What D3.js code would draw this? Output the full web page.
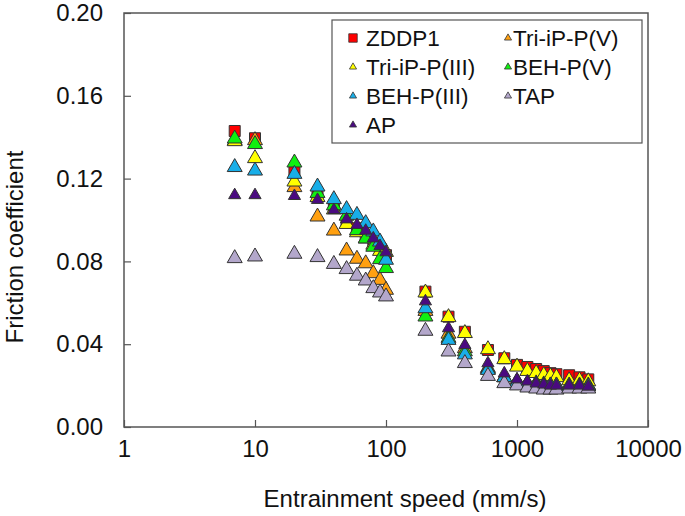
<!DOCTYPE html>
<html>
<head>
<meta charset="utf-8">
<script src="https://cdn.jsdelivr.net/npm/d3@7"></script>
<style>
  body { margin: 0; background: #fff; }
  text { font-family: "Liberation Sans", Arial, sans-serif; fill: #111; }
</style>
</head>
<body>
<svg id="chart" width="685" height="516"></svg>
<script>
// data
var speeds = [7, 10, 20, 30, 40, 50, 60, 70, 80, 90, 100, 200, 300, 400, 600, 800, 1000, 1200, 1400, 1600, 1800, 2000, 2500, 3000, 3500];
var zddp1 = [0.143, 0.1395, 0.1233, 0.112, 0.106, 0.099, 0.096, 0.092, 0.089, 0.086, 0.083, 0.0654, 0.0533, 0.046, 0.0372, 0.0332, 0.030, 0.029, 0.028, 0.027, 0.026, 0.0255, 0.025, 0.024, 0.023];
var triIPV = [0.1383, 0.1385, 0.1158, 0.1016, 0.0948, 0.0852, 0.0812, 0.079, 0.0742, 0.071, 0.0662, 0.056, 0.045, 0.038, 0.0285, 0.024, 0.022, 0.021, 0.021, 0.0205, 0.020, 0.020, 0.020, 0.020, 0.020];
var triIPIII = [0.138, 0.1298, 0.1185, 0.111, 0.105, 0.098, 0.094, 0.091, 0.088, 0.085, 0.0845, 0.0649, 0.053, 0.0453, 0.0375, 0.0327, 0.0291, 0.027, 0.026, 0.025, 0.0245, 0.024, 0.0225, 0.0225, 0.022];
var behV = [0.1393, 0.1366, 0.1277, 0.113, 0.107, 0.102, 0.095, 0.091, 0.087, 0.081, 0.0767, 0.0533, 0.043, 0.0365, 0.028, 0.024, 0.022, 0.021, 0.021, 0.0205, 0.020, 0.020, 0.020, 0.020, 0.020];
var behIII = [0.1255, 0.1238, 0.1222, 0.1161, 0.110, 0.1052, 0.1024, 0.0984, 0.0944, 0.0895, 0.0807, 0.0573, 0.042, 0.035, 0.0275, 0.024, 0.0215, 0.021, 0.0205, 0.020, 0.020, 0.020, 0.0195, 0.0195, 0.0195];
var tap = [0.0815, 0.0823, 0.0836, 0.082, 0.0787, 0.0762, 0.073, 0.0707, 0.067, 0.0649, 0.063, 0.0464, 0.0364, 0.0308, 0.0246, 0.0211, 0.020, 0.019, 0.0185, 0.018, 0.018, 0.018, 0.0185, 0.0185, 0.0185];
var ap = [0.112, 0.112, 0.1116, 0.1097, 0.1048, 0.1003, 0.0976, 0.0948, 0.0911, 0.0874, 0.0844, 0.0607, 0.0477, 0.0396, 0.0308, 0.0259, 0.023, 0.022, 0.021, 0.0205, 0.020, 0.020, 0.020, 0.020, 0.0195];

var xTicks = [1, 10, 100, 1000, 10000];
var yTicks = [0, 0.04, 0.08, 0.12, 0.16, 0.20];

var series = [
  { name: "ZDDP1", values: zddp1, color: "#ff0000", shape: "square" },
  { name: "Tri-iP-P(V)", values: triIPV, color: "#ffa010", shape: "tri" },
  { name: "Tri-iP-P(III)", values: triIPIII, color: "#ffff00", shape: "tri" },
  { name: "BEH-P(V)", values: behV, color: "#10f010", shape: "tri" },
  { name: "BEH-P(III)", values: behIII, color: "#18aee8", shape: "tri" },
  { name: "TAP", values: tap, color: "#b3a7cb", shape: "tri" },
  { name: "AP", values: ap, color: "#4a0a80", shape: "small" }
];

var margin = { top: 13, right: 37, bottom: 89, left: 124 };
var width = 685 - margin.left - margin.right,
  height = 516 - margin.top - margin.bottom;

var svg = d3.select("svg#chart")
  .append("g")
  .attr("transform", `translate(${margin.left}, ${margin.top})`);

var x = d3.scaleLog().domain([1, 10000]).range([0, width]);
var y = d3.scaleLinear().domain([0, 0.2]).range([height, 0]);

// frame
svg.append("rect")
  .attr("width", width)
  .attr("height", height)
  .attr("fill", "none")
  .attr("stroke", "#555")
  .attr("stroke-width", 1.5);

// x axis, ticks inside
var xAxis = svg.append("g")
  .attr("transform", "translate(0," + height + ")")
  .call(d3.axisBottom(x).tickValues(xTicks).tickSizeInner(-7).tickSizeOuter(0).tickPadding(12).tickFormat(d3.format("d")));
xAxis.select(".domain").remove();
xAxis.selectAll("line").attr("stroke", "#555").attr("stroke-width", 1.2);
xAxis.selectAll("text").attr("font-size", 24).attr("dy", "0.71em").attr("y", 13);

// y axis
var yAxis = svg.append("g")
  .call(d3.axisLeft(y).tickValues(yTicks).tickSizeInner(-7).tickSizeOuter(0).tickPadding(21).tickFormat(d3.format(".2f")));
yAxis.select(".domain").remove();
yAxis.selectAll("line").attr("stroke", "#555").attr("stroke-width", 1.2);
yAxis.selectAll("text").attr("font-size", 24);

// axis titles
svg.append("text")
  .attr("x", 281)
  .attr("y", 494)
  .attr("text-anchor", "middle")
  .attr("font-size", 24)
  .text("Entrainment speed (mm/s)");

svg.append("text")
  .attr("transform", "translate(-101," + 234 + ") rotate(-90)")
  .attr("text-anchor", "middle")
  .attr("font-size", 24)
  .text("Friction coefficient");

function symbolFor(shape, legend) {
  if (shape === "square") return d3.symbol().type(d3.symbolSquare).size(legend ? 72 : 121)();
  if (shape === "small") return d3.symbol().type(d3.symbolTriangle).size(legend ? 22 : 64)();
  return d3.symbol().type(d3.symbolTriangle).size(legend ? 22 : 97)();
}

// points
series.forEach(function (s) {
  svg.append("g")
    .selectAll("path")
    .data(speeds)
    .join("path")
    .attr("d", symbolFor(s.shape, false))
    .attr("transform", function (d, i) {
      return "translate(" + x(d) + "," + y(s.values[i]) + ")";
    })
    .attr("fill", s.color)
    .attr("stroke", "#333")
    .attr("stroke-width", 1);
});

// legend
var legend = svg.append("g").attr("transform", "translate(" + (332 - margin.left) + "," + (20 - margin.top) + ")");
legend.append("rect")
  .attr("width", 310)
  .attr("height", 123)
  .attr("fill", "#fff")
  .attr("stroke", "#555")
  .attr("stroke-width", 1.2);

var colX = [21, 176], textX = [34, 181], rowY = [18, 47, 76, 105];
series.forEach(function (s, i) {
  var col = i % 2, row = Math.floor(i / 2);
  var item = legend.append("g").attr("transform", "translate(" + colX[col] + "," + rowY[row] + ")");
  item.append("path")
    .attr("d", symbolFor(s.shape, true))
    .attr("fill", s.color)
    .attr("stroke", "#333")
    .attr("stroke-width", 0.8);
  item.append("text")
    .attr("x", textX[col] - colX[col])
    .attr("dy", "0.36em")
    .attr("font-size", 22.5)
    .text(s.name);
});
</script>
</body>
</html>
